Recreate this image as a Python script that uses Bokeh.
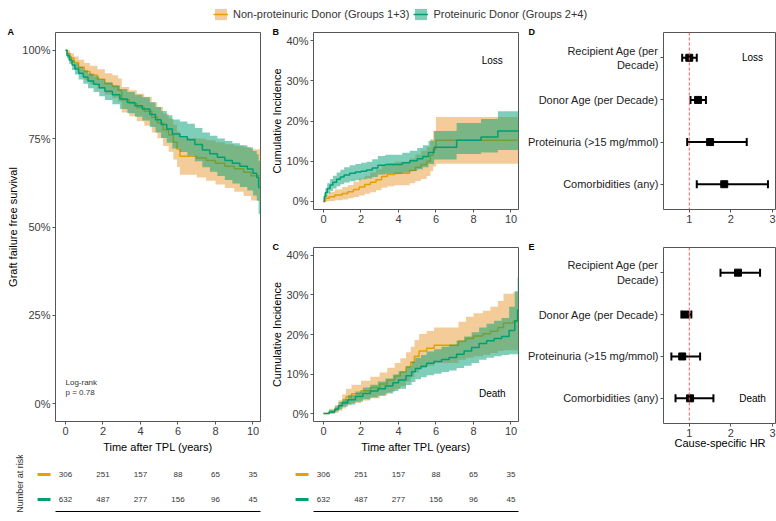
from bokeh.plotting import figure
from bokeh.layouts import column, row
from bokeh.models import (ColumnDataSource, Range1d, FixedTicker, NumeralTickFormatter,
                          Label, Span, Whisker, TeeHead, Legend, LegendItem, Title, Spacer)
from bokeh.core.properties import value
from bokeh.embed import file_html
from bokeh.resources import INLINE

FONT = "Liberation Sans"
ORANGE = "#E69F00"
GREEN = "#009E73"
ORANGE_FILL = "#EA9A34"
GREEN_FILL = "#009E73"
FILL_ALPHA = 0.5
TICK_COLOR = "#3C3C3C"
FRAME_COLOR = "#555555"

# ---------------------------------------------------------------- data
group_labels = ["Non-proteinuric Donor (Groups 1+3)", "Proteinuric Donor (Groups 2+4)"]

# A: graft failure free survival (Kaplan-Meier with 95% CI)
surv_np_t = [0, 0.1, 0.25, 0.45, 0.7, 1.0, 1.3, 1.7, 2.1, 2.5, 2.8, 3.0, 3.4, 3.8, 4.2,
             4.6, 4.9, 5.2, 5.5, 5.75, 5.95, 6.1, 7.0, 7.5, 8.0, 8.5, 9.0, 9.5, 9.9, 10.4]
surv_np = [1.0, 0.99, 0.978, 0.965, 0.952, 0.94, 0.93, 0.918, 0.905, 0.897, 0.887, 0.86,
           0.85, 0.838, 0.827, 0.81, 0.795, 0.775, 0.76, 0.74, 0.72, 0.70, 0.695, 0.688,
           0.68, 0.672, 0.665, 0.655, 0.645, 0.645]
surv_np_lo = [1.0, 0.981, 0.965, 0.948, 0.931, 0.916, 0.904, 0.890, 0.875, 0.865, 0.854,
              0.824, 0.813, 0.799, 0.786, 0.767, 0.751, 0.729, 0.713, 0.691, 0.670, 0.648,
              0.640, 0.631, 0.620, 0.610, 0.600, 0.588, 0.575, 0.570]
surv_np_hi = [1.0, 0.999, 0.991, 0.982, 0.973, 0.964, 0.956, 0.946, 0.935, 0.929, 0.920,
              0.896, 0.887, 0.877, 0.868, 0.853, 0.839, 0.821, 0.807, 0.789, 0.770, 0.752,
              0.750, 0.745, 0.740, 0.734, 0.730, 0.726, 0.720, 0.720]

surv_p_t = [0, 0.08, 0.2, 0.35, 0.5, 0.7, 0.95, 1.2, 1.5, 1.8, 2.1, 2.5, 2.9, 3.3, 3.7,
            4.1, 4.5, 4.8, 5.1, 5.4, 5.7, 6.1, 6.5, 6.9, 7.3, 7.7, 8.1, 8.5, 8.9, 9.3,
            9.7, 10.0, 10.2, 10.3, 10.4]
surv_p = [1.0, 0.985, 0.972, 0.958, 0.947, 0.935, 0.924, 0.913, 0.904, 0.894, 0.884,
          0.874, 0.862, 0.852, 0.843, 0.834, 0.818, 0.803, 0.790, 0.777, 0.763, 0.755,
          0.747, 0.733, 0.718, 0.707, 0.697, 0.688, 0.680, 0.672, 0.664, 0.652, 0.640,
          0.612, 0.612]
surv_p_lo = [1.0, 0.977, 0.961, 0.944, 0.931, 0.917, 0.905, 0.892, 0.882, 0.870, 0.859,
             0.847, 0.834, 0.822, 0.812, 0.801, 0.783, 0.767, 0.752, 0.738, 0.722, 0.712,
             0.702, 0.686, 0.669, 0.656, 0.644, 0.633, 0.623, 0.613, 0.603, 0.589, 0.574,
             0.537, 0.537]
surv_p_hi = [1.0, 0.993, 0.983, 0.972, 0.963, 0.953, 0.943, 0.934, 0.926, 0.918, 0.909,
             0.901, 0.890, 0.882, 0.874, 0.867, 0.853, 0.839, 0.828, 0.816, 0.804, 0.798,
             0.792, 0.780, 0.767, 0.758, 0.750, 0.743, 0.737, 0.731, 0.725, 0.715, 0.706,
             0.687, 0.687]

# B: cumulative incidence of graft loss
loss_np_t = [0, 0.1, 0.3, 0.6, 1.0, 1.3, 1.6, 1.9, 2.2, 2.5, 2.8, 3.1, 3.4, 3.8, 4.6,
             4.9, 5.2, 5.5, 5.7, 5.85, 6.0, 10.4]
loss_np = [0, 0.008, 0.012, 0.016, 0.02, 0.024, 0.03, 0.036, 0.042, 0.048, 0.054, 0.062,
           0.067, 0.07, 0.077, 0.085, 0.092, 0.1, 0.115, 0.13, 0.152, 0.152]
loss_np_lo = [0, 0.0, 0.001, 0.003, 0.005, 0.008, 0.011, 0.015, 0.019, 0.023, 0.028, 0.034,
              0.038, 0.040, 0.045, 0.051, 0.056, 0.063, 0.075, 0.087, 0.094, 0.094]
loss_np_hi = [0, 0.018, 0.024, 0.030, 0.036, 0.041, 0.049, 0.057, 0.064, 0.072, 0.080,
              0.089, 0.095, 0.099, 0.107, 0.117, 0.126, 0.136, 0.155, 0.175, 0.210, 0.210]

loss_p_t = [0, 0.04, 0.1, 0.2, 0.35, 0.5, 0.7, 0.9, 1.1, 1.4, 1.7, 2.0, 2.3, 2.6, 2.9,
            3.3, 4.2, 4.6, 5.0, 5.3, 5.6, 5.9, 7.1, 8.4, 9.3, 10.4]
loss_p = [0, 0.012, 0.022, 0.032, 0.041, 0.048, 0.055, 0.061, 0.066, 0.070, 0.073, 0.075,
          0.078, 0.083, 0.090, 0.092, 0.096, 0.101, 0.106, 0.112, 0.122, 0.135, 0.152,
          0.160, 0.175, 0.175]
loss_p_lo = [0, 0.004, 0.011, 0.019, 0.026, 0.032, 0.038, 0.043, 0.047, 0.050, 0.053,
             0.055, 0.057, 0.061, 0.067, 0.069, 0.072, 0.076, 0.080, 0.085, 0.093, 0.104,
             0.118, 0.122, 0.128, 0.128]
loss_p_hi = [0, 0.020, 0.033, 0.045, 0.056, 0.064, 0.072, 0.079, 0.085, 0.090, 0.093,
             0.096, 0.099, 0.105, 0.113, 0.116, 0.121, 0.126, 0.133, 0.140, 0.151, 0.175,
             0.195, 0.205, 0.224, 0.224]

# C: cumulative incidence of death with functioning graft
death_np_t = [0, 0.3, 0.6, 0.8, 1.0, 1.2, 1.5, 2.0, 2.5, 3.0, 3.4, 3.8, 4.1, 4.4, 4.65,
              4.85, 5.1, 5.5, 5.9, 7.2, 7.6, 8.0, 8.5, 8.9, 9.3, 9.6, 10.1, 10.4]
death_np = [0, 0.004, 0.011, 0.02, 0.03, 0.042, 0.05, 0.058, 0.066, 0.075, 0.085, 0.095,
            0.105, 0.118, 0.13, 0.145, 0.158, 0.165, 0.173, 0.183, 0.19, 0.196, 0.202,
            0.208, 0.218, 0.229, 0.233, 0.233]
death_np_lo = [0, 0, 0.002, 0.007, 0.013, 0.021, 0.027, 0.033, 0.039, 0.046, 0.054, 0.062,
               0.070, 0.081, 0.091, 0.104, 0.115, 0.121, 0.128, 0.136, 0.141, 0.145, 0.149,
               0.153, 0.158, 0.160, 0.160, 0.160]
death_np_hi = [0, 0.012, 0.022, 0.034, 0.048, 0.063, 0.073, 0.083, 0.093, 0.104, 0.116,
               0.128, 0.140, 0.155, 0.169, 0.186, 0.201, 0.209, 0.218, 0.232, 0.245, 0.254,
               0.260, 0.270, 0.285, 0.303, 0.307, 0.307]

death_p_t = [0, 0.3, 0.6, 0.8, 1.0, 1.3, 1.7, 2.1, 2.5, 2.9, 3.3, 3.7, 4.0, 4.4, 4.7, 4.9,
             5.2, 5.5, 5.9, 6.3, 6.7, 7.1, 7.5, 7.9, 8.3, 8.7, 9.1, 9.5, 9.9, 10.2, 10.35, 10.4]
death_p = [0, 0.004, 0.011, 0.02, 0.027, 0.035, 0.043, 0.051, 0.057, 0.063, 0.07, 0.078,
           0.085, 0.096, 0.106, 0.114, 0.12, 0.127, 0.132, 0.137, 0.142, 0.15, 0.158, 0.167,
           0.177, 0.184, 0.19, 0.195, 0.21, 0.235, 0.262, 0.262]
death_p_lo = [0, 0, 0.005, 0.011, 0.017, 0.023, 0.030, 0.036, 0.041, 0.045, 0.051, 0.057,
              0.063, 0.072, 0.080, 0.087, 0.092, 0.097, 0.101, 0.105, 0.109, 0.115, 0.121,
              0.128, 0.136, 0.141, 0.145, 0.148, 0.150, 0.150, 0.150, 0.150]
death_p_hi = [0, 0.009, 0.018, 0.029, 0.037, 0.047, 0.056, 0.066, 0.073, 0.081, 0.089,
              0.099, 0.107, 0.120, 0.132, 0.141, 0.148, 0.157, 0.163, 0.169, 0.175, 0.185,
              0.195, 0.206, 0.218, 0.227, 0.235, 0.242, 0.270, 0.310, 0.344, 0.344]

# numbers at risk
risk_times = [0, 2, 4, 6, 8, 10]
risk_np = [306, 251, 157, 88, 65, 35]
risk_p = [632, 487, 277, 156, 96, 45]

# D / E: cause-specific hazard ratios
cov_labels = ["Recipient Age (per\nDecade)", "Donor Age (per Decade)",
              "Proteinuria (>15 mg/mmol)", "Comorbidities (any)"]
loss_hr = [1.00, 1.21, 1.50, 1.84]
loss_hr_lo = [0.83, 1.03, 0.95, 1.18]
loss_hr_hi = [1.18, 1.40, 2.38, 2.89]
death_hr = [2.17, 0.91, 0.83, 1.02]
death_hr_lo = [1.75, 0.81, 0.57, 0.67]
death_hr_hi = [2.70, 1.05, 1.26, 1.58]

time_ticks = [0, 2, 4, 6, 8, 10]

# ---------------------------------------------------------------- helpers
T_MIN, T_MAX = -0.533, 10.4
TAB_MIN = -1.867            # risk tables reach further left to hold the group keys
KEY_X0, KEY_X1 = -1.49, -0.80
OFFSCREEN = [-50, -49]      # keeps legend-only renderers outside the visible range


def make_fig(w, h, left, right, top, bottom, xr, yr, **kw):
    p = figure(width=w, height=h, x_range=xr, y_range=yr,
               min_border_left=left, min_border_right=right,
               min_border_top=top, min_border_bottom=bottom,
               output_backend="svg", toolbar_location=None, **kw)
    p.grid.visible = False
    p.outline_line_color = FRAME_COLOR
    p.outline_line_width = 1
    for ax in p.axis:
        ax.axis_line_color = None
        ax.major_tick_line_color = FRAME_COLOR
        ax.major_tick_out = 3
        ax.major_tick_in = 0
        ax.minor_tick_line_color = None
        ax.major_label_text_font = FONT
        ax.major_label_text_font_size = "11px"
        ax.major_label_text_color = TICK_COLOR
        ax.major_label_standoff = 2
        ax.axis_label_text_font = FONT
        ax.axis_label_text_font_size = "11px"
        ax.axis_label_text_font_style = "normal"
        ax.axis_label_text_color = "black"
        ax.axis_label_standoff = 3
    p.yaxis.axis_label_standoff = 0
    return p


def panel_letter(p, letter, offset):
    kw = dict(text=letter, align="left", offset=offset, vertical_align="bottom",
              text_font=FONT, text_font_size="9px", text_font_style="bold",
              text_color="black")
    try:
        t = Title(standoff=-9, **kw)
    except Exception:
        t = Title(standoff=0, **kw)
    p.add_layout(t, "above")


def draw_curve(p, t, est, lo, hi, line_color, fill_color):
    src = ColumnDataSource(dict(t=t, est=est, lo=lo, hi=hi))
    p.varea_step(x="t", y1="lo", y2="hi", step_mode="after", source=src,
                 fill_color=fill_color, fill_alpha=FILL_ALPHA)
    p.step(x="t", y="est", mode="after", source=src, line_color=line_color, line_width=1.5)


def km_panel(w, h, left, right, top, bottom, yr, yticks, curves, xlabel=None, ylabel=None):
    p = make_fig(w, h, left, right, top, bottom, Range1d(T_MIN, T_MAX), yr)
    p.xaxis.ticker = FixedTicker(ticks=time_ticks)
    p.yaxis.ticker = FixedTicker(ticks=yticks)
    p.yaxis.formatter = NumeralTickFormatter(format="0%")
    if xlabel:
        p.xaxis.axis_label = xlabel
    if ylabel:
        p.yaxis.axis_label = ylabel
    for c in curves:
        draw_curve(p, *c)
    return p


def risk_table(w, left, right, with_title):
    p = figure(width=w, height=66, x_range=Range1d(TAB_MIN, T_MAX),
               y_range=Range1d(0.52, 2.76),
               min_border_left=left, min_border_right=right, min_border_top=0,
               min_border_bottom=10, output_backend="svg", toolbar_location=None,
               y_axis_location="left" if with_title else None)
    p.grid.visible = False
    p.outline_line_color = None
    xa = p.xaxis[0]
    xa.ticker = FixedTicker(ticks=[])
    xa.bounds = (T_MIN, T_MAX)
    xa.axis_line_color = "black"
    xa.axis_line_width = 1
    xa.major_tick_out = 0
    xa.major_tick_in = 0
    xa.minor_tick_line_color = None
    xa.major_label_text_font_size = "0px"
    if with_title:
        ya = p.yaxis[0]
        ya.ticker = FixedTicker(ticks=[])
        ya.axis_line_color = None
        ya.major_tick_out = 0
        ya.major_tick_in = 0
        ya.minor_tick_line_color = None
        ya.major_label_text_font_size = "0px"
        ya.major_label_standoff = 0
        ya.axis_label = "Number at risk"
        ya.axis_label_text_font = FONT
        ya.axis_label_text_font_size = "9px"
        ya.axis_label_text_font_style = "normal"
        ya.axis_label_text_color = "#333333"
        ya.axis_label_standoff = 6
    for yrow, counts, col in [(2, risk_np, ORANGE), (1, risk_p, GREEN)]:
        src = ColumnDataSource(dict(t=risk_times, y=[yrow] * len(risk_times),
                                    n=[str(v) for v in counts]))
        p.text(x="t", y="y", text="n", source=src, text_font=value(FONT),
               text_font_size=value("8px"), text_align="center", text_baseline="middle",
               text_color="#333333")
        p.segment(x0=[KEY_X0], x1=[KEY_X1], y0=[yrow], y1=[yrow], line_color=col,
                  line_width=3)
    return p


def forest_panel(h, top, bottom, hr, lo, hi, tag, tag_y, xlabel=None):
    p = make_fig(252, h, 138, 0, top, bottom, Range1d(0.381, 3.095), Range1d(0.4, 4.6))
    pos = [4, 3, 2, 1]
    p.xaxis.ticker = FixedTicker(ticks=[1, 2, 3])
    p.yaxis.ticker = FixedTicker(ticks=pos)
    p.yaxis.major_label_overrides = {k: lab for k, lab in zip(pos, cov_labels)}
    p.yaxis.major_label_text_color = "#222222"
    if xlabel:
        p.xaxis.axis_label = xlabel
        try:
            p.xaxis.axis_label_standoff = -3
        except Exception:
            p.xaxis.axis_label_standoff = 0
    p.add_layout(Span(location=1, dimension="height", line_color="#EE5A5A",
                      line_dash="3 2", line_width=1))
    src = ColumnDataSource(dict(y=pos, hr=hr, lo=lo, hi=hi))
    p.add_layout(Whisker(source=src, base="y", lower="lo", upper="hi", dimension="width",
                         line_color="black", line_width=2,
                         upper_head=TeeHead(size=8, line_color="black", line_width=2),
                         lower_head=TeeHead(size=8, line_color="black", line_width=2)))
    p.scatter(x="hr", y="y", source=src, marker="square", size=7, color="black")
    p.add_layout(Label(x=2.52, y=tag_y, text=tag, text_font=FONT, text_font_size="10px",
                       text_align="center", text_baseline="middle", text_color="black"))
    return p


# ---------------------------------------------------------------- panels
pA = km_panel(262, 428, 55, 2, 5, 32, Range1d(-0.05, 1.05), [0, 0.25, 0.5, 0.75, 1.0],
              [(surv_np_t, surv_np, surv_np_lo, surv_np_hi, ORANGE, ORANGE_FILL),
               (surv_p_t, surv_p, surv_p_lo, surv_p_hi, GREEN, GREEN_FILL)],
              xlabel="Time after TPL (years)", ylabel="Graft failure free survival")
pA.add_layout(Label(x=0, y=0.061, text="Log-rank", text_font=FONT, text_font_size="8px",
                    text_align="left", text_baseline="middle", text_color="#333333"))
pA.add_layout(Label(x=0, y=0.031, text="p = 0.78", text_font=FONT, text_font_size="8px",
                    text_align="left", text_baseline="middle", text_color="#333333"))
panel_letter(pA, "A", -48)

pB = km_panel(262, 202, 51, 6, 5, 20, Range1d(-0.02, 0.42), [0, 0.1, 0.2, 0.3, 0.4],
              [(loss_np_t, loss_np, loss_np_lo, loss_np_hi, ORANGE, ORANGE_FILL),
               (loss_p_t, loss_p, loss_p_lo, loss_p_hi, GREEN, GREEN_FILL)],
              ylabel="Cumulative Incidence")
pB.add_layout(Label(x=9.0, y=0.35, text="Loss", text_font=FONT, text_font_size="10px",
                    text_align="center", text_baseline="middle", text_color="black"))
panel_letter(pB, "B", -41)

pC = km_panel(262, 226, 51, 6, 18, 32, Range1d(-0.02, 0.42), [0, 0.1, 0.2, 0.3, 0.4],
              [(death_np_t, death_np, death_np_lo, death_np_hi, ORANGE, ORANGE_FILL),
               (death_p_t, death_p, death_p_lo, death_p_hi, GREEN, GREEN_FILL)],
              xlabel="Time after TPL (years)", ylabel="Cumulative Incidence")
pC.add_layout(Label(x=9.0, y=0.05, text="Death", text_font=FONT, text_font_size="10px",
                    text_align="center", text_baseline="middle", text_color="black"))
panel_letter(pC, "C", -41)

pD = forest_panel(202, 5, 20, loss_hr, loss_hr_lo, loss_hr_hi, "Loss", 4)
panel_letter(pD, "D", -135)
pE = forest_panel(226, 18, 32, death_hr, death_hr_lo, death_hr_hi, "Death", 1,
                  xlabel="Cause-specific HR")
panel_letter(pE, "E", -135)

tabA = risk_table(262, 30, 2, True)
tabC = risk_table(262, 26, 6, False)

# ---------------------------------------------------------------- shared legend
leg = figure(width=776, height=27, x_range=Range1d(0, 1), y_range=Range1d(0, 1),
             min_border=0, output_backend="svg", toolbar_location=None,
             x_axis_location=None, y_axis_location=None)
leg.grid.visible = False
leg.outline_line_color = None
items = []
for lab, lc, fc in zip(group_labels, [ORANGE, GREEN], [ORANGE_FILL, GREEN_FILL]):
    ra = leg.varea(x=OFFSCREEN, y1=[0, 0], y2=[1, 1], fill_color=fc, fill_alpha=FILL_ALPHA)
    rl = leg.line(x=OFFSCREEN, y=[0.5, 0.5], line_color=lc, line_width=1.5)
    items.append(LegendItem(label=lab, renderers=[ra, rl]))
legend = Legend(items=items, orientation="horizontal", location=(213, 6),
                padding=0, margin=0, spacing=4, glyph_width=15, glyph_height=14,
                label_standoff=5, label_height=14, border_line_color=None,
                background_fill_alpha=0, label_text_font=FONT,
                label_text_font_size="11px", label_text_color="#333333")
leg.add_layout(legend)

layout = column(leg,
                row(pA, column(pB, pC), column(pD, pE)),
                row(tabA, tabC, Spacer(width=252, height=66)))

open("out.html", "w").write(file_html(layout, INLINE))
